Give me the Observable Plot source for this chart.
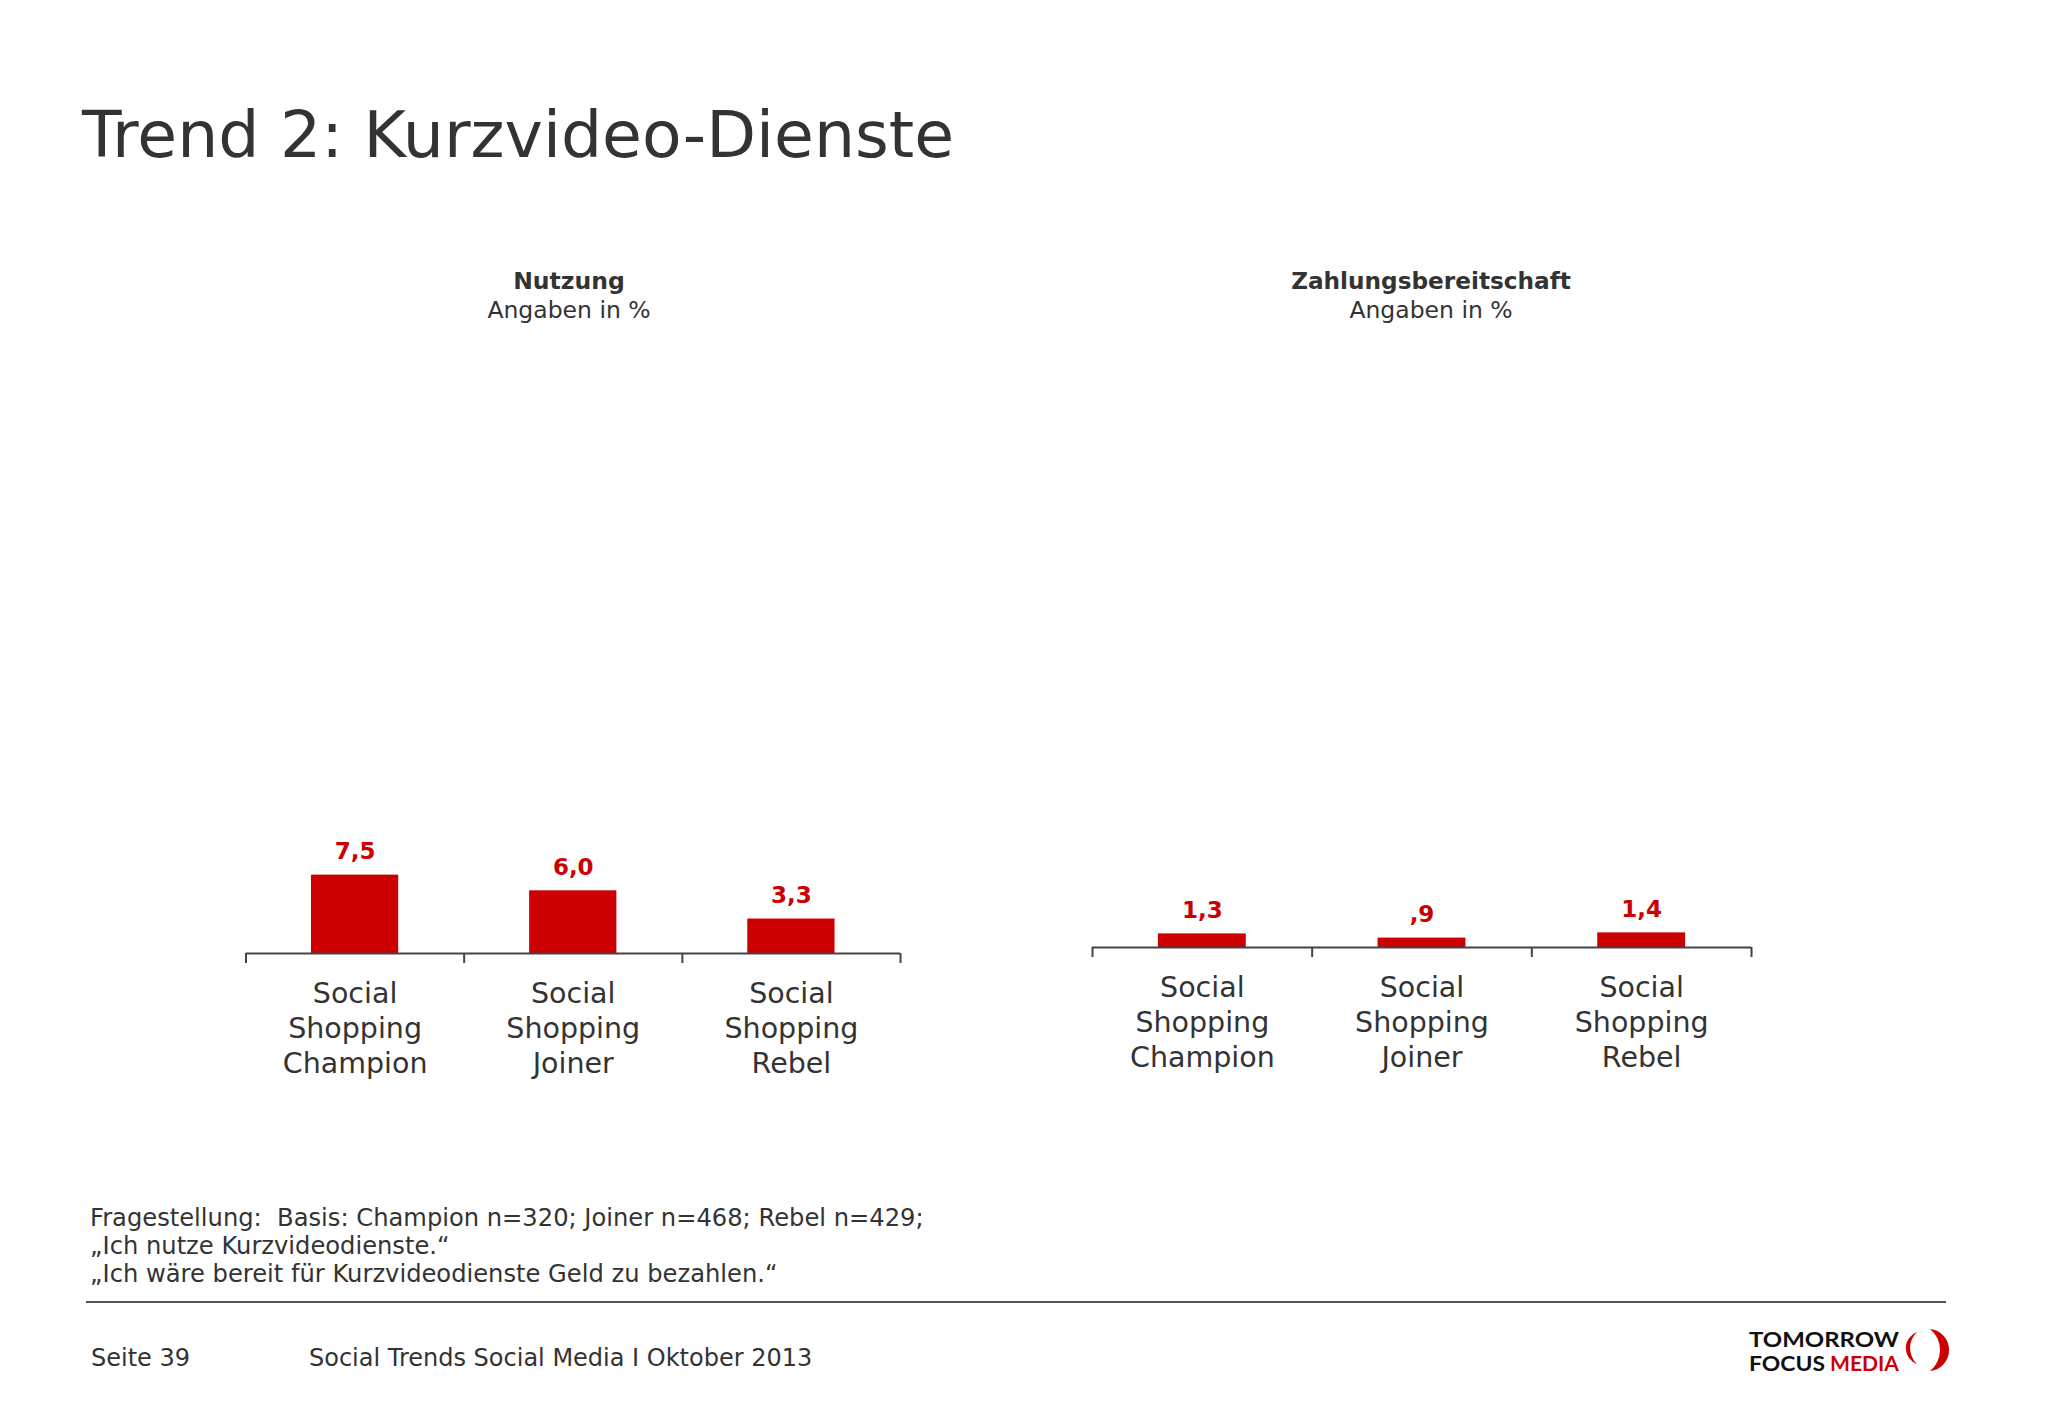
<!DOCTYPE html>
<html>
<head>
<meta charset="utf-8">
<script src="https://cdn.jsdelivr.net/npm/d3@7"></script>
<script src="https://cdn.jsdelivr.net/npm/@observablehq/plot@0.6"></script>
<style>
  html, body { margin: 0; padding: 0; background: #fff; }
  #page { position: relative; width: 2048px; height: 1418px; overflow: hidden; background: #fff; font-family: "DejaVu Sans", Verdana, sans-serif; }
  #overlay { position: absolute; left: 0; top: 0; }
  .panel { position: absolute; top: 700px; }
</style>
</head>
<body>
<div id="page">
  <svg id="overlay" width="2048" height="1418" xmlns="http://www.w3.org/2000/svg">
    <text x="82" y="157" font-size="64.8" fill="#333">Trend 2: Kurzvideo-Dienste</text>
    <text x="569" y="289" font-size="23.5" font-weight="bold" fill="#333" text-anchor="middle">Nutzung</text>
    <text x="569" y="318" font-size="23.5" fill="#333" text-anchor="middle">Angaben in %</text>
    <text x="1431" y="289" font-size="23.2" font-weight="bold" fill="#333" text-anchor="middle">Zahlungsbereitschaft</text>
    <text x="1431" y="318" font-size="23.5" fill="#333" text-anchor="middle">Angaben in %</text>
    <text x="90" y="1226" font-size="24.2" fill="#333" xml:space="preserve">Fragestellung:  Basis: Champion n=320; Joiner n=468; Rebel n=429;</text>
    <text x="90" y="1254" font-size="24.2" fill="#333">„Ich nutze Kurzvideodienste.“</text>
    <text x="90" y="1282" font-size="24.2" fill="#333">„Ich wäre bereit für Kurzvideodienste Geld zu bezahlen.“</text>
    <line x1="86" x2="1946" y1="1302" y2="1302" stroke="#555" stroke-width="2"/>
    <text x="91" y="1366" font-size="24" fill="#333">Seite 39</text>
    <text x="309" y="1366" font-size="24" fill="#333">Social Trends Social Media I Oktober 2013</text>
    <g font-family="Lato, 'Open Sans', sans-serif" font-weight="bold">
      <text x="1749" y="1347" font-size="20" fill="#111" textLength="150" lengthAdjust="spacingAndGlyphs">TOMORROW</text>
      <text x="1749" y="1371" font-size="20" fill="#111" textLength="76" lengthAdjust="spacingAndGlyphs">FOCUS</text>
      <text x="1830" y="1371" font-size="20" fill="#cc0000" textLength="69" lengthAdjust="spacingAndGlyphs">MEDIA</text>
    </g>
    <path d="M1917,1332 A17 17 0 0 0 1917,1364 A22 22 0 0 1 1917,1332 Z" fill="#cc0000"/>
    <path d="M1930,1329 A21.1 21.1 0 0 1 1930,1371 A27 27 0 0 0 1930,1329 Z" fill="#cc0000"/>
  </svg>
  <div id="left" class="panel" style="left:0px"></div>
  <div id="right" class="panel" style="left:1024px"></div>
</div>
<script>
const categories = ["Social Shopping Champion", "Social Shopping Joiner", "Social Shopping Rebel"];
const nutzung = [7.5, 6.0, 3.3];
const zahlungsbereitschaft = [1.3, 0.9, 1.4];
const yMax = 20;

const fmt = v => d3.format(".1f")(v).replace(".", ",").replace(/^0/, "");

function panel(values, m) {
  const data = categories.map((c, i) => ({c, i, v: values[i]}));
  return Plot.plot({
    width: 1024,
    height: 450,
    marginLeft: m.left,
    marginRight: m.right,
    marginTop: m.top,
    marginBottom: m.bottom,
    x: {domain: [0, categories.length], axis: null},
    y: {domain: [0, yMax], axis: null},
    style: {background: "transparent", fontFamily: "'DejaVu Sans', Verdana, sans-serif", overflow: "visible"},
    marks: [
      Plot.rectY(data, {x1: d => d.i + 0.3, x2: d => d.i + 0.7, y1: 0, y2: "v", fill: "#cc0000"}),
      Plot.ruleY([0], {stroke: "#444", strokeWidth: 2}),
      Plot.axisX({ticks: d3.range(categories.length + 1), tickSize: 10, tickFormat: () => "", label: null, stroke: "#444", strokeWidth: 2, strokeOpacity: 1}),
      Plot.text(data, {x: d => d.i + 0.5, y: "v", text: d => fmt(d.v), dy: -16, lineAnchor: "bottom", fill: "#cc0000", fontWeight: "bold", fontSize: 23}),
      Plot.text(data, {x: d => d.i + 0.5, y: 0, text: d => d.c.replace(/ /g, "\n"), lineAnchor: "top", dy: 25, lineHeight: 1.23, fontSize: 28.5, fill: "#333"})
    ]
  });
}

document.getElementById("left").append(panel(nutzung, {left: 245.5, right: 124, top: 44, bottom: 197}));
document.getElementById("right").append(panel(zahlungsbereitschaft, {left: 68, right: 297, top: 38, bottom: 203}));
</script>
</body>
</html>
